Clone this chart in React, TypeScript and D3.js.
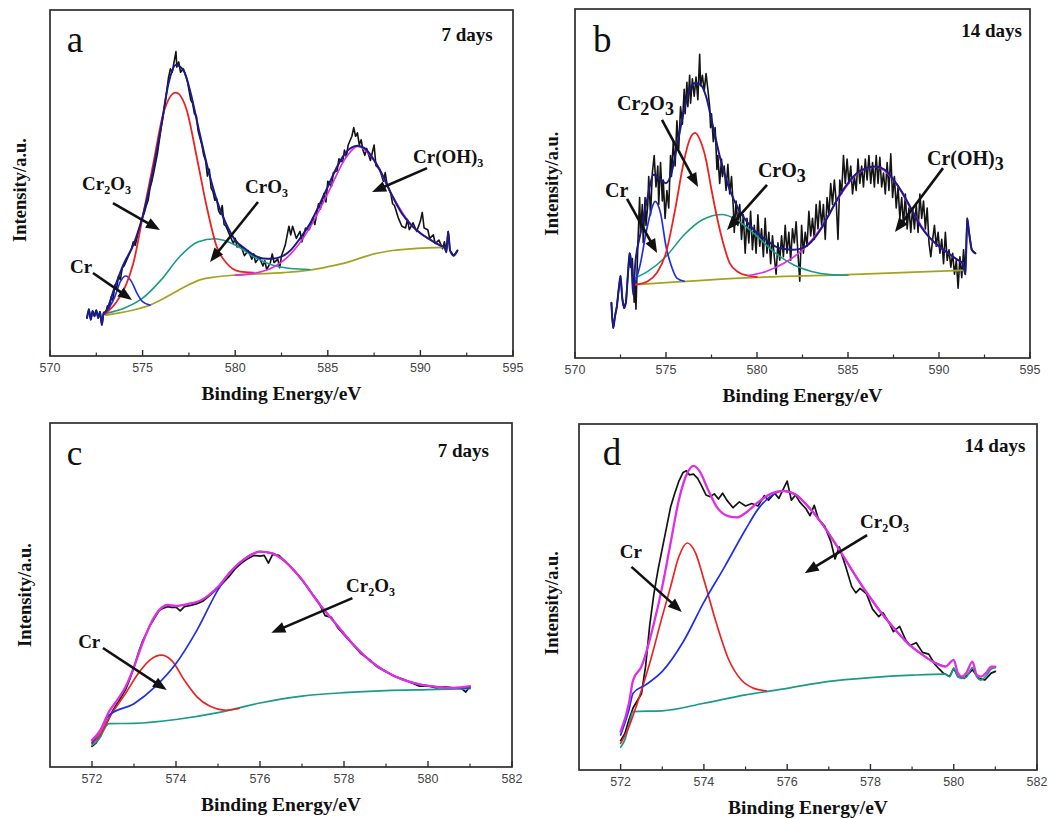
import React from "react";
import * as d3 from "d3";

type Pt = [number, number];

// ---------------- Panel a : Cr 2p, 7 days ----------------
const aRaw: Pt[] = [
  [572.0, 11.0], [572.1, 13.5], [572.2, 10.5], [572.3, 13.0], [572.4, 11.5], [572.5, 13.2], [572.6, 11.0],
  [572.7, 12.8], [572.8, 9.0], [572.9, 12.5], [573.0, 12.0], [573.1, 14.5], [573.2, 13.5], [573.3, 17.0],
  [573.4, 16.0], [573.5, 20.5], [573.6, 19.5], [573.7, 23.0], [573.8, 22.0], [573.9, 25.5], [574.0, 26.0],
  [574.2, 28.5], [574.4, 31.0], [574.5, 33.0], [574.6, 32.0], [574.8, 36.5], [575.0, 40.0], [575.1, 41.5],
  [575.2, 43.5], [575.3, 45.0], [575.4, 48.5], [575.5, 50.5], [575.6, 53.0], [575.8, 58.5], [576.0, 66.0],
  [576.1, 69.0], [576.2, 72.5], [576.3, 76.5], [576.4, 80.5], [576.5, 83.0], [576.6, 82.0], [576.7, 85.0],
  [576.8, 88.0], [576.85, 83.5], [576.95, 85.0], [577.05, 82.0], [577.2, 83.0], [577.3, 81.5], [577.4, 80.0],
  [577.5, 77.0], [577.6, 74.0], [577.7, 73.0], [577.8, 70.0], [577.9, 69.5], [578.0, 65.0], [578.2, 61.0],
  [578.3, 58.0], [578.4, 56.5], [578.5, 52.0], [578.6, 54.0], [578.7, 48.5], [578.8, 47.5], [578.9, 45.0],
  [579.0, 45.5], [579.1, 42.0], [579.2, 41.0], [579.3, 43.5], [579.4, 38.0], [579.5, 37.5], [579.7, 35.0],
  [579.9, 32.5], [580.0, 34.0], [580.1, 31.5], [580.3, 32.0], [580.5, 29.0], [580.7, 30.5], [580.9, 28.0],
  [581.0, 29.5], [581.1, 27.0], [581.3, 28.5], [581.5, 26.0], [581.6, 27.5], [581.7, 25.0], [581.9, 27.0],
  [582.0, 29.5], [582.1, 27.0], [582.3, 28.0], [582.4, 25.5], [582.5, 29.0], [582.7, 32.0], [582.9, 37.5],
  [583.0, 35.0], [583.1, 37.5], [583.3, 34.0], [583.5, 36.0], [583.6, 33.0], [583.8, 37.0], [584.0, 36.5],
  [584.2, 40.0], [584.3, 38.0], [584.5, 44.0], [584.6, 42.5], [584.8, 47.0], [584.9, 44.5], [585.0, 50.5],
  [585.2, 49.0], [585.3, 53.0], [585.5, 53.5], [585.6, 57.0], [585.8, 56.0], [585.9, 59.5], [586.0, 57.5],
  [586.1, 61.0], [586.3, 63.5], [586.4, 66.0], [586.5, 63.5], [586.6, 64.5], [586.7, 61.0], [586.8, 62.5],
  [586.9, 59.5], [587.0, 58.0], [587.1, 60.0], [587.3, 56.5], [587.5, 61.0], [587.6, 55.0], [587.8, 54.0],
  [588.0, 50.5], [588.1, 53.0], [588.2, 49.5], [588.4, 47.0], [588.5, 44.0], [588.6, 43.5], [588.8, 40.0],
  [589.0, 37.5], [589.2, 37.0], [589.3, 39.5], [589.4, 36.5], [589.6, 38.5], [589.8, 36.0], [590.0, 39.0],
  [590.1, 41.5], [590.2, 37.0], [590.4, 36.5], [590.5, 34.0], [590.7, 35.0], [590.8, 32.5], [591.0, 33.5],
  [591.2, 31.0], [591.3, 33.0], [591.4, 30.0], [591.5, 36.0], [591.6, 30.5], [591.8, 29.0], [592.0, 30.5],
];
const aEnvelope: Pt[] = [
  [572.0, 11.0], [572.1, 13.5], [572.2, 10.5], [572.3, 13.0], [572.4, 11.5], [572.5, 13.2], [572.6, 11.0],
  [572.7, 12.8], [572.8, 9.0], [572.9, 12.5], [573.0, 12.8], [573.5, 20.0], [574.0, 26.8], [574.5, 32.1],
  [575.0, 40.3], [575.5, 51.8], [576.0, 66.3], [576.4, 78.8], [576.8, 84.1], [577.2, 82.6], [577.6, 75.9],
  [578.0, 66.3], [578.5, 54.7], [579.0, 45.1], [579.5, 38.3], [580.0, 33.5], [580.5, 31.1], [581.0, 29.2],
  [581.5, 28.2], [582.0, 28.1], [582.5, 28.7], [583.0, 30.6], [583.5, 34.0], [584.0, 37.9], [584.5, 43.2],
  [585.0, 48.9], [585.5, 54.7], [586.0, 59.0], [586.6, 60.8], [587.0, 60.0], [587.5, 56.6], [588.0, 51.8],
  [588.5, 46.1], [589.0, 41.2], [589.5, 37.9], [590.0, 35.5], [590.5, 33.7], [591.0, 32.1], [591.3, 31.4],
  [591.4, 30.0], [591.5, 36.0], [591.6, 30.5], [591.8, 29.0], [592.0, 30.5],
];
const aBaseline: Pt[] = [
  [573.0, 11.8], [573.6, 12.3], [574.5, 13.3], [575.4, 14.7], [576.3, 17.1], [577.2, 19.8], [578.1, 22.0],
  [579.0, 22.9], [580.0, 23.4], [581.5, 23.8], [582.6, 24.1], [584.0, 24.8], [585.0, 25.8], [586.0, 27.0],
  [586.7, 28.2], [587.5, 29.5], [588.5, 30.5], [589.8, 31.1], [591.3, 31.4],
];
const aCr: Pt[] = [
  [573.0, 12.3], [573.5, 17.1], [573.8, 21.5], [574.1, 23.1], [574.4, 21.5], [574.7, 18.1], [575.0, 15.7], [575.4, 14.7],
];
const aCr2O3: Pt[] = [
  [573.0, 12.3], [573.6, 15.7], [574.1, 20.5], [574.5, 26.8], [575.04, 41.2], [575.58, 55.7], [576.12, 70.1],
  [576.79, 76.1], [577.38, 71.1], [577.92, 57.6], [578.46, 43.2], [579.0, 31.6], [579.54, 26.8], [580.26, 24.4],
  [580.98, 24.1],
];
const aCrO3: Pt[] = [
  [573.0, 12.3], [574.0, 13.8], [575.0, 16.7], [576.0, 22.0], [577.0, 28.7], [578.0, 33.0], [578.9, 33.9],
  [580.0, 32.1], [581.0, 28.7], [582.0, 26.3], [583.0, 25.3], [584.0, 25.0],
];
const aCrOH3: Pt[] = [
  [580.0, 23.4], [581.0, 23.9], [582.0, 25.5], [583.0, 29.5], [584.0, 36.8], [585.0, 47.0], [586.0, 57.5],
  [586.6, 60.6], [587.5, 56.5], [588.5, 46.1], [589.5, 37.9], [590.5, 33.7], [591.3, 31.4],
];

// ---------------- Panel b : Cr 2p, 14 days ----------------
const bRaw: Pt[] = [
  [572.0, 15.8], [572.05, 11.0], [572.1, 8.6], [572.2, 12.0], [572.3, 14.8], [572.4, 19.6], [572.5, 23.5],
  [572.6, 17.0], [572.7, 14.3], [572.8, 16.0], [572.9, 23.4], [573.0, 30.0], [573.05, 26.0], [573.15, 28.5],
  [573.25, 16.0], [573.3, 22.0], [573.35, 14.0], [573.45, 32.0], [573.55, 46.0], [573.6, 36.0], [573.7, 44.0],
  [573.75, 33.0], [573.85, 46.0], [573.9, 38.0], [574.0, 44.0], [574.05, 52.0], [574.15, 41.0], [574.25, 53.0],
  [574.35, 58.0], [574.45, 49.0], [574.55, 55.0], [574.6, 44.0], [574.7, 56.0], [574.8, 45.0], [574.85, 51.0],
  [574.95, 40.0], [575.05, 48.0], [575.15, 43.0], [575.25, 58.0], [575.3, 52.0], [575.4, 62.0], [575.5, 55.0],
  [575.6, 68.0], [575.7, 60.0], [575.8, 72.0], [575.9, 67.0], [576.0, 77.0], [576.05, 70.0], [576.15, 79.0],
  [576.2, 72.0], [576.3, 81.0], [576.35, 73.0], [576.45, 80.0], [576.55, 75.0], [576.65, 80.5], [576.75, 74.0],
  [576.85, 87.0], [576.9, 78.0], [577.0, 81.0], [577.1, 76.5], [577.2, 81.5], [577.3, 77.0], [577.4, 72.0],
  [577.45, 66.0], [577.5, 70.0], [577.6, 62.0], [577.7, 66.0], [577.8, 54.0], [577.85, 58.0], [577.95, 50.0],
  [578.05, 57.0], [578.1, 52.0], [578.2, 55.0], [578.3, 48.0], [578.4, 55.5], [578.5, 47.0], [578.6, 52.0],
  [578.7, 43.0], [578.75, 36.0], [578.85, 45.0], [578.95, 38.0], [579.05, 44.0], [579.15, 34.0], [579.25, 41.0],
  [579.35, 30.0], [579.45, 40.0], [579.55, 33.0], [579.65, 42.0], [579.75, 31.0], [579.85, 38.0], [579.95, 30.0],
  [580.05, 41.0], [580.15, 32.0], [580.25, 37.0], [580.35, 29.0], [580.45, 40.0], [580.55, 30.0], [580.65, 36.0],
  [580.75, 27.0], [580.85, 35.0], [580.95, 29.0], [581.05, 24.0], [581.15, 33.0], [581.25, 28.0], [581.35, 35.0],
  [581.45, 29.0], [581.55, 38.0], [581.65, 30.0], [581.75, 36.0], [581.85, 28.0], [581.95, 37.0], [582.05, 33.0],
  [582.15, 39.0], [582.25, 30.0], [582.35, 22.0], [582.45, 38.0], [582.55, 30.0], [582.65, 36.0], [582.75, 32.0],
  [582.85, 42.0], [582.95, 35.0], [583.05, 40.0], [583.15, 34.0], [583.25, 44.0], [583.35, 37.0], [583.45, 45.0],
  [583.55, 38.0], [583.65, 44.0], [583.75, 34.0], [583.85, 46.0], [583.95, 41.0], [584.05, 50.0], [584.15, 44.0],
  [584.25, 51.0], [584.35, 45.0], [584.45, 34.0], [584.55, 51.0], [584.65, 47.0], [584.75, 58.0], [584.85, 50.0],
  [584.95, 57.0], [585.05, 50.0], [585.15, 55.0], [585.25, 47.0], [585.35, 52.0], [585.45, 48.0], [585.55, 57.0],
  [585.65, 50.0], [585.75, 55.0], [585.85, 49.0], [585.95, 57.0], [586.05, 51.0], [586.15, 58.0], [586.25, 50.0],
  [586.35, 56.0], [586.45, 49.0], [586.55, 58.0], [586.65, 50.0], [586.75, 57.5], [586.85, 49.0], [586.95, 53.0],
  [587.05, 47.0], [587.15, 56.0], [587.25, 48.0], [587.35, 58.5], [587.45, 46.0], [587.55, 52.0], [587.65, 43.0],
  [587.75, 49.0], [587.85, 40.0], [587.95, 46.0], [588.05, 38.0], [588.15, 47.0], [588.25, 37.0], [588.35, 43.0],
  [588.45, 36.0], [588.55, 43.0], [588.65, 37.0], [588.75, 44.0], [588.85, 36.0], [588.95, 47.0], [589.05, 40.0],
  [589.15, 45.0], [589.25, 37.0], [589.35, 43.0], [589.45, 33.0], [589.55, 29.0], [589.65, 34.0], [589.75, 38.0],
  [589.85, 32.0], [589.95, 36.0], [590.05, 30.0], [590.15, 34.0], [590.25, 27.0], [590.35, 36.0], [590.45, 28.0],
  [590.55, 31.0], [590.65, 26.0], [590.75, 30.0], [590.85, 24.0], [590.95, 28.0], [591.05, 20.0], [591.15, 29.0],
  [591.25, 23.0], [591.35, 31.0], [591.45, 24.0], [591.55, 40.0], [591.65, 36.0], [591.8, 31.0], [592.0, 30.0],
];
const bEnvelope: Pt[] = [
  [572.0, 15.8], [572.1, 8.6], [572.2, 12.0], [572.3, 14.8], [572.4, 19.6], [572.5, 23.5], [572.6, 17.0],
  [572.7, 14.3], [572.8, 16.0], [572.9, 23.4], [573.0, 30.0], [573.1, 27.0], [573.2, 18.0], [573.3, 26.3],
  [573.6, 35.8], [574.0, 46.3], [574.3, 52.5], [574.7, 51.1], [575.0, 50.1], [575.3, 53.0], [575.6, 60.6],
  [576.0, 71.2], [576.3, 76.9], [576.6, 78.8], [576.9, 78.3], [577.2, 75.0], [577.5, 68.3], [578.0, 56.8],
  [578.5, 48.2], [579.0, 42.5], [579.5, 38.7], [580.0, 35.8], [580.5, 33.9], [581.0, 32.0], [581.5, 31.2],
  [582.0, 31.0], [582.5, 31.5], [583.0, 33.4], [583.5, 36.8], [584.0, 41.5], [584.5, 46.3], [585.0, 50.1],
  [585.5, 53.0], [586.0, 54.4], [586.5, 54.9], [587.0, 54.0], [587.5, 51.1], [588.0, 47.3], [588.5, 42.5],
  [589.0, 37.7], [589.5, 34.4], [590.0, 32.0], [590.5, 30.1], [591.0, 28.2], [591.3, 27.2], [591.45, 24.0],
  [591.55, 40.0], [591.65, 36.0], [591.8, 31.0], [592.0, 30.0],
];
const bBaseline: Pt[] = [[573.3, 21.0], [580.0, 23.1], [585.0, 23.9], [591.3, 25.1]];
const bCr: Pt[] = [
  [573.3, 21.5], [573.6, 27.2], [573.9, 35.8], [574.2, 42.5], [574.4, 44.9], [574.7, 41.5], [575.0, 32.0],
  [575.3, 26.3], [575.6, 22.9], [576.0, 22.0],
];
const bCr2O3: Pt[] = [
  [573.3, 21.0], [574.0, 22.0], [574.5, 24.4], [575.0, 30.1], [575.5, 42.5], [576.0, 56.8], [576.3, 62.6],
  [576.6, 64.5], [576.9, 62.1], [577.2, 56.8], [577.5, 48.2], [578.0, 35.8], [578.5, 27.2], [579.0, 24.5],
  [579.5, 23.6], [580.0, 23.2],
];
const bCrO3: Pt[] = [
  [573.3, 22.9], [574.0, 24.8], [575.0, 29.1], [576.0, 35.3], [577.0, 39.6], [578.1, 41.1], [579.0, 39.2],
  [580.0, 34.9], [581.0, 30.1], [582.0, 26.7], [583.0, 24.8], [584.0, 23.9], [585.0, 23.7],
];
const bCrOH3: Pt[] = [
  [579.5, 23.6], [580.5, 24.8], [581.5, 27.2], [582.5, 31.0], [583.5, 37.2], [584.5, 46.0], [585.5, 52.8],
  [586.5, 54.8], [587.5, 51.0], [588.5, 42.4], [589.5, 34.3], [590.5, 30.0], [591.3, 27.2],
];

// ---------------- Panel c : Cr 2p, 7 days (fit) ----------------
const cRaw: Pt[] = [
  [572.0, 6.0], [572.1, 7.0], [572.2, 9.0], [572.3, 11.5], [572.4, 14.0], [572.5, 16.5], [572.6, 18.5],
  [572.7, 20.5], [572.8, 22.5], [572.9, 25.5], [573.0, 29.0], [573.1, 33.0], [573.2, 36.5], [573.3, 39.0],
  [573.4, 41.5], [573.5, 43.5], [573.6, 45.5], [573.7, 46.2], [573.8, 46.6], [573.9, 46.4], [574.0, 46.5],
  [574.1, 45.4], [574.2, 46.6], [574.35, 47.0], [574.5, 47.5], [574.65, 48.3], [574.8, 49.8], [574.95, 51.5],
  [575.1, 53.3], [575.25, 55.2], [575.4, 57.5], [575.55, 59.2], [575.7, 60.5], [575.85, 61.5], [576.0, 61.3],
  [576.1, 61.5], [576.2, 59.3], [576.3, 61.8], [576.45, 61.5], [576.6, 59.8], [576.8, 57.3], [577.0, 54.5],
  [577.2, 51.0], [577.4, 47.8], [577.55, 44.0], [577.7, 43.5], [577.85, 40.5], [578.0, 38.5], [578.2, 35.8],
  [578.4, 33.0], [578.6, 31.3], [578.8, 29.0], [579.0, 27.8], [579.2, 26.4], [579.4, 25.6], [579.6, 24.5],
  [579.8, 23.5], [580.0, 23.6], [580.2, 23.0], [580.4, 23.3], [580.6, 23.0], [580.8, 22.8], [580.9, 21.8],
  [581.0, 23.4],
];
const cEnvelope: Pt[] = [
  [572.0, 7.8], [572.2, 10.7], [572.4, 16.0], [572.6, 19.4], [572.8, 23.3], [573.0, 29.1], [573.2, 35.9],
  [573.4, 41.7], [573.6, 45.6], [573.8, 47.1], [574.0, 46.8], [574.3, 47.4], [574.6, 48.5], [575.0, 52.4],
  [575.3, 56.8], [575.6, 60.2], [576.0, 62.6], [576.3, 62.1], [576.6, 59.7], [577.0, 54.4], [577.4, 47.6],
  [577.8, 41.7], [578.2, 35.9], [578.6, 31.1], [579.0, 27.7], [579.4, 25.4], [579.8, 24.0], [580.2, 23.3],
  [580.6, 23.0], [581.0, 23.5],
];
const cBaseline: Pt[] = [
  [572.0, 6.3], [572.1, 7.3], [572.2, 8.7], [572.3, 11.2], [572.4, 12.6], [573.0, 12.7], [574.0, 13.8],
  [575.0, 15.8], [576.0, 18.6], [577.0, 20.6], [578.0, 21.6], [579.0, 22.2], [580.0, 22.5], [581.0, 22.8],
];
const cCr: Pt[] = [
  [572.0, 6.8], [572.2, 9.5], [572.4, 14.1], [572.8, 21.4], [573.1, 27.2], [573.4, 31.3], [573.65, 32.5],
  [573.9, 30.9], [574.2, 25.2], [574.5, 20.4], [574.8, 17.7], [575.2, 16.5], [575.5, 17.0],
];
const cCr2O3: Pt[] = [
  [572.0, 7.1], [572.2, 10.5], [572.4, 15.0], [573.0, 18.4], [573.5, 23.3], [574.0, 30.1], [574.5, 39.8],
  [575.0, 51.5], [575.3, 56.8], [575.6, 60.2], [576.0, 62.6], [576.3, 62.1], [576.6, 59.7], [577.0, 54.4],
  [577.4, 47.6], [577.8, 41.7], [578.2, 35.9], [578.6, 31.1], [579.0, 27.7], [579.4, 25.4], [579.8, 24.0],
  [580.2, 23.3], [580.6, 23.0], [581.0, 23.0],
];

// ---------------- Panel d : Cr 2p, 14 days (fit) ----------------
const dRaw: Pt[] = [
  [572.0, 8.5], [572.1, 10.5], [572.2, 14.5], [572.3, 18.0], [572.4, 20.0], [572.5, 22.0], [572.6, 30.0],
  [572.7, 42.0], [572.8, 51.0], [572.9, 58.0], [573.0, 64.0], [573.1, 70.0], [573.2, 76.0], [573.3, 80.0],
  [573.4, 83.5], [573.5, 86.0], [573.58, 86.5], [573.65, 85.3], [573.75, 85.5], [573.85, 84.3], [573.95, 82.0],
  [574.05, 79.5], [574.15, 79.0], [574.25, 79.8], [574.35, 78.3], [574.45, 80.0], [574.55, 78.0], [574.7, 75.8],
  [574.85, 77.5], [575.0, 76.3], [575.15, 77.0], [575.3, 76.3], [575.45, 79.3], [575.55, 78.0], [575.7, 80.0],
  [575.8, 78.5], [575.9, 81.0], [576.0, 83.5], [576.1, 78.0], [576.2, 79.5], [576.3, 77.5], [576.45, 75.5],
  [576.55, 73.5], [576.65, 76.5], [576.75, 72.5], [576.9, 70.5], [577.05, 66.0], [577.15, 61.0], [577.25, 64.5],
  [577.4, 59.0], [577.55, 53.0], [577.65, 51.2], [577.75, 52.5], [577.9, 51.0], [578.05, 46.5], [578.2, 44.3],
  [578.3, 45.5], [578.45, 42.5], [578.55, 40.0], [578.7, 41.5], [578.85, 37.5], [578.95, 36.0], [579.1, 36.8],
  [579.25, 34.0], [579.4, 33.5], [579.55, 30.5], [579.65, 29.2], [579.75, 28.0], [579.9, 27.0], [580.0, 29.4],
  [580.1, 27.0], [580.25, 26.5], [580.45, 29.0], [580.6, 26.5], [580.75, 26.0], [580.9, 28.0], [581.0, 28.5],
];
const dEnvelope: Pt[] = [
  [572.0, 11.1], [572.2, 19.3], [572.3, 26.0], [572.5, 29.9], [572.8, 42.4], [573.0, 53.0], [573.2, 65.6],
  [573.4, 78.1], [573.6, 85.8], [573.75, 87.9], [573.9, 86.3], [574.1, 81.0], [574.3, 76.2], [574.6, 73.3],
  [574.8, 73.0], [575.0, 74.3], [575.3, 77.4], [575.6, 79.8], [575.9, 80.7], [576.2, 79.6], [576.5, 76.2],
  [576.8, 71.8], [577.1, 66.5], [577.4, 60.8], [577.7, 55.0], [578.0, 49.7], [578.3, 44.8], [578.6, 40.5],
  [578.9, 36.6], [579.2, 33.7], [579.5, 31.3], [579.8, 29.9], [580.0, 31.8], [580.1, 28.0], [580.2, 27.0],
  [580.3, 28.0], [580.45, 31.3], [580.55, 27.5], [580.65, 27.0], [580.8, 28.4], [580.9, 29.9], [581.0, 29.9],
];
const dBaseline: Pt[] = [
  [572.0, 6.6], [572.1, 8.7], [572.2, 13.0], [572.3, 16.9], [573.0, 17.1], [574.0, 19.3], [575.0, 21.7],
  [576.0, 23.6], [577.0, 25.6], [578.0, 26.7], [579.0, 27.4], [579.8, 27.7], [579.9, 27.0], [580.0, 29.4],
  [580.1, 27.0], [580.2, 26.5], [580.3, 26.8], [580.45, 29.6], [580.55, 27.0], [580.65, 26.0], [580.8, 27.5],
  [580.9, 29.2], [581.0, 29.6],
];
const dCr: Pt[] = [
  [572.0, 7.7], [572.2, 12.5], [572.4, 19.3], [572.7, 30.9], [573.0, 44.4], [573.2, 53.0], [573.4, 61.7],
  [573.6, 65.6], [573.8, 62.7], [574.0, 55.0], [574.3, 42.4], [574.6, 31.8], [574.9, 26.0], [575.2, 23.6],
  [575.5, 22.9],
];
const dCr2O3: Pt[] = [
  [572.0, 10.1], [572.2, 17.4], [572.3, 22.2], [572.6, 24.6], [573.0, 28.5], [573.5, 37.0], [574.0, 48.5],
  [574.5, 58.8], [575.0, 69.5], [575.3, 75.4], [575.6, 79.1], [575.9, 80.7], [576.2, 79.6], [576.5, 76.2],
  [576.8, 71.8], [577.1, 66.5], [577.4, 60.8], [577.7, 55.0], [578.0, 49.7], [578.3, 44.8], [578.6, 40.5],
  [578.9, 36.6], [579.2, 33.7], [579.5, 31.3], [579.8, 29.9],
];

// ---------------- axes ----------------
const ticksWide = [570, 575, 580, 585, 590, 595];
const minorWide = [572.5, 577.5, 582.5, 587.5, 592.5];
const ticksNarrow = [572, 574, 576, 578, 580, 582];
const minorNarrow = [573, 575, 577, 579, 581];
const xTitle = "Binding Energy/eV";
const yTitle = "Intensity/a.u.";

// ---------------- styles ----------------
const SERIF = "'Liberation Serif','Times New Roman',Times,serif";
const SANS = "'Liberation Sans',Arial,Helvetica,sans-serif";
const C_BLACK = "#141414";
const C_NAVY = "#1b1b88";
const C_RED = "#ec2222";
const C_BLUE = "#1f2fe6";
const C_TEAL = "#199a8a";
const C_OLIVE = "#a3a321";
const C_MAGENTA = "#e02ee2";

type Series = { data: Pt[]; color: string; width: number; smooth: boolean };
type Label = { text: string; at: Pt; size: number; sub: number; subDy: number };
type Arrow = { from: Pt; to: Pt };
type PanelCfg = {
  frame: { x: number; y: number; w: number; h: number };
  domain: [number, number];
  ticks: number[];
  minor: number[];
  letter: string;
  letterAt: Pt;
  letterSize: number;
  days: string;
  daysAt: Pt;
  series: Series[];
  labels: Label[];
  arrows: Arrow[];
  yTitleDx: number;
  yTitleDy: number;
};

const panels: PanelCfg[] = [
  {
    frame: { x: 50, y: 10, w: 463, h: 346 },
    domain: [570, 595],
    ticks: ticksWide,
    minor: minorWide,
    letter: "a",
    letterAt: [570.9, 87.9],
    letterSize: 37,
    days: "7 days",
    daysAt: [593.9, 91.0],
    series: [
      { data: aRaw, color: C_BLACK, width: 1.6, smooth: false },
      { data: aBaseline, color: C_OLIVE, width: 1.7, smooth: true },
      { data: aCrO3, color: C_TEAL, width: 1.6, smooth: true },
      { data: aCr, color: C_BLUE, width: 1.6, smooth: true },
      { data: aCr2O3, color: C_RED, width: 1.8, smooth: true },
      { data: aCrOH3, color: C_MAGENTA, width: 1.7, smooth: true },
      { data: aEnvelope, color: C_NAVY, width: 2.0, smooth: true },
    ],
    labels: [
      { text: "Cr_2O_3", at: [571.73, 48.0], size: 19, sub: 12, subDy: 4 },
      { text: "CrO_3", at: [580.53, 47.1], size: 19, sub: 12, subDy: 4 },
      { text: "Cr(OH)_3", at: [589.6, 55.8], size: 19, sub: 12, subDy: 4 },
      { text: "Cr", at: [571.08, 24.0], size: 19, sub: 12, subDy: 4 },
    ],
    arrows: [
      { from: [573.4, 44.2], to: [575.94, 36.4] },
      { from: [581.23, 44.5], to: [578.64, 27.2] },
      { from: [590.36, 54.3], to: [587.39, 47.4] },
      { from: [572.32, 24.0], to: [574.43, 16.2] },
    ],
    yTitleDx: -30,
    yTitleDy: 7,
  },
  {
    frame: { x: 575, y: 9, w: 455, h: 349 },
    domain: [570, 595],
    ticks: ticksWide,
    minor: minorWide,
    letter: "b",
    letterAt: [570.99, 87.7],
    letterSize: 37,
    days: "14 days",
    daysAt: [594.56, 92.0],
    series: [
      { data: bRaw, color: C_BLACK, width: 1.6, smooth: false },
      { data: bBaseline, color: C_OLIVE, width: 1.7, smooth: true },
      { data: bCrO3, color: C_TEAL, width: 1.6, smooth: true },
      { data: bCr, color: C_BLUE, width: 1.7, smooth: true },
      { data: bCr2O3, color: C_RED, width: 1.8, smooth: true },
      { data: bCrOH3, color: C_MAGENTA, width: 1.7, smooth: true },
      { data: bEnvelope, color: C_NAVY, width: 2.0, smooth: true },
    ],
    labels: [
      { text: "Cr_2O_3", at: [572.31, 71.1], size: 20, sub: 18, subDy: 5 },
      { text: "CrO_3", at: [580.05, 51.9], size: 20, sub: 18, subDy: 5 },
      { text: "Cr(OH)_3", at: [589.34, 55.3], size: 20, sub: 18, subDy: 5 },
      { text: "Cr", at: [571.65, 46.1], size: 20, sub: 18, subDy: 5 },
    ],
    arrows: [
      { from: [574.78, 68.2], to: [576.76, 49.0] },
      { from: [580.55, 49.6], to: [578.35, 36.7] },
      { from: [590.22, 54.4], to: [587.58, 36.1] },
      { from: [572.86, 45.6], to: [574.51, 30.1] },
    ],
    yTitleDx: -23,
    yTitleDy: 0,
  },
  {
    frame: { x: 50, y: 423, w: 462, h: 344 },
    domain: [571, 582],
    ticks: ticksNarrow,
    minor: minorNarrow,
    letter: "c",
    letterAt: [571.4, 87.8],
    letterSize: 35,
    days: "7 days",
    daysAt: [581.45, 90.1],
    series: [
      { data: cRaw, color: C_BLACK, width: 1.7, smooth: false },
      { data: cBaseline, color: C_TEAL, width: 1.7, smooth: true },
      { data: cCr, color: C_RED, width: 1.7, smooth: true },
      { data: cCr2O3, color: C_BLUE, width: 1.7, smooth: true },
      { data: cEnvelope, color: C_MAGENTA, width: 2.3, smooth: true },
    ],
    labels: [
      { text: "Cr_2O_3", at: [578.05, 50.9], size: 19, sub: 12, subDy: 4 },
      { text: "Cr", at: [571.67, 34.6], size: 19, sub: 12, subDy: 4 },
    ],
    arrows: [
      { from: [578.2, 49.1], to: [576.27, 39.0] },
      { from: [572.26, 34.6], to: [573.78, 22.4] },
    ],
    yTitleDx: -25,
    yTitleDy: 0,
  },
  {
    frame: { x: 579, y: 424, w: 458, h: 346 },
    domain: [571, 582],
    ticks: ticksNarrow,
    minor: minorNarrow,
    letter: "d",
    letterAt: [571.57, 88.2],
    letterSize: 37,
    days: "14 days",
    daysAt: [581.72, 91.9],
    series: [
      { data: dRaw, color: C_BLACK, width: 1.7, smooth: false },
      { data: dBaseline, color: C_TEAL, width: 1.7, smooth: true },
      { data: dCr, color: C_RED, width: 1.7, smooth: true },
      { data: dCr2O3, color: C_BLUE, width: 1.7, smooth: true },
      { data: dEnvelope, color: C_MAGENTA, width: 2.3, smooth: true },
    ],
    labels: [
      { text: "Cr_2O_3", at: [577.75, 69.9], size: 19, sub: 12, subDy: 4 },
      { text: "Cr", at: [571.98, 61.3], size: 19, sub: 12, subDy: 4 },
    ],
    arrows: [
      { from: [577.92, 67.9], to: [576.42, 56.9] },
      { from: [572.26, 58.7], to: [573.47, 45.7] },
    ],
    yTitleDx: -27,
    yTitleDy: 6,
  },
];

function ChemLabel({ l, x, y }: { l: Label; x: number; y: number }) {
  const parts = l.text.split(/_(\d)/);
  const nodes: React.ReactNode[] = [];
  let shifted = false;
  parts.forEach((p, i) => {
    if (p === "") return;
    if (i % 2 === 1) {
      nodes.push(
        <tspan key={i} fontSize={l.sub} dy={shifted ? 0 : l.subDy}>
          {p}
        </tspan>
      );
      shifted = true;
    } else {
      nodes.push(
        <tspan key={i} fontSize={l.size} dy={shifted ? -l.subDy : 0}>
          {p}
        </tspan>
      );
      shifted = false;
    }
  });
  return (
    <text x={x} y={y} fontFamily={SERIF} fontWeight="bold" fontSize={l.size} fill="#111">
      {nodes}
    </text>
  );
}

function Panel({ p }: { p: PanelCfg }) {
  const { frame } = p;
  const bottom = frame.y + frame.h;
  const x = d3.scaleLinear().domain(p.domain).range([frame.x, frame.x + frame.w]);
  const y = d3.scaleLinear().domain([0, 100]).range([bottom, frame.y]);
  const smooth = d3
    .line<Pt>()
    .x((d) => x(d[0]))
    .y((d) => y(d[1]))
    .curve(d3.curveMonotoneX);
  const straight = d3
    .line<Pt>()
    .x((d) => x(d[0]))
    .y((d) => y(d[1]));
  const fmt = d3.format("d");
  const cx = frame.x + frame.w / 2;
  const cy = frame.y + frame.h / 2;

  return (
    <g>
      {p.series.map((s, i) => (
        <path
          key={i}
          d={(s.smooth ? smooth : straight)(s.data) || ""}
          fill="none"
          stroke={s.color}
          strokeWidth={s.width}
          strokeLinejoin="round"
          strokeLinecap="round"
        />
      ))}
      <rect x={frame.x} y={frame.y} width={frame.w} height={frame.h} fill="none" stroke="#2d2d2d" strokeWidth={1.7} />
      {p.ticks.map((t) => (
        <g key={"t" + t}>
          <line x1={x(t)} x2={x(t)} y1={bottom} y2={bottom - 6} stroke="#2d2d2d" strokeWidth={1.4} />
          <text x={x(t)} y={bottom + 16} textAnchor="middle" fontFamily={SANS} fontSize={12.5} fill="#444">
            {fmt(t)}
          </text>
        </g>
      ))}
      {p.minor.map((t) => (
        <line key={"m" + t} x1={x(t)} x2={x(t)} y1={bottom} y2={bottom - 3.5} stroke="#2d2d2d" strokeWidth={1.2} />
      ))}
      <text x={cx} y={bottom + 44} textAnchor="middle" fontFamily={SERIF} fontWeight="bold" fontSize={19.5} fill="#111">
        {xTitle}
      </text>
      <text
        transform={`translate(${frame.x + p.yTitleDx},${cy + p.yTitleDy}) rotate(-90)`}
        textAnchor="middle"
        dominantBaseline="central"
        fontFamily={SERIF}
        fontWeight="bold"
        fontSize={18.5}
        fill="#111"
      >
        {yTitle}
      </text>
      <text x={x(p.letterAt[0])} y={y(p.letterAt[1])} fontFamily={SERIF} fontSize={p.letterSize} fill="#111">
        {p.letter}
      </text>
      <text
        x={x(p.daysAt[0])}
        y={y(p.daysAt[1])}
        textAnchor="end"
        fontFamily={SERIF}
        fontWeight="bold"
        fontSize={19}
        fill="#111"
      >
        {p.days}
      </text>
      {p.labels.map((l, i) => (
        <ChemLabel key={"l" + i} l={l} x={x(l.at[0])} y={y(l.at[1])} />
      ))}
      {p.arrows.map((a, i) => {
        const x1 = x(a.from[0]);
        const y1 = y(a.from[1]);
        const x2 = x(a.to[0]);
        const y2 = y(a.to[1]);
        const ang = Math.atan2(y2 - y1, x2 - x1);
        const L = 14;
        const W = 5.5;
        const bx = x2 - L * Math.cos(ang);
        const by = y2 - L * Math.sin(ang);
        const s = Math.sin(ang);
        const c = Math.cos(ang);
        const head = `${x2},${y2} ${bx + W * s},${by - W * c} ${bx - W * s},${by + W * c}`;
        return (
          <g key={"a" + i}>
            <line x1={x1} y1={y1} x2={bx + 2 * c} y2={by + 2 * s} stroke="#111" strokeWidth={2.6} />
            <polygon points={head} fill="#111" />
          </g>
        );
      })}
    </g>
  );
}

export default function App() {
  return (
    <svg
      width={1051}
      height={819}
      viewBox="0 0 1051 819"
      style={{ position: "absolute", left: 0, top: 0, background: "#fff" }}
    >
      <rect x={0} y={0} width={1051} height={819} fill="#fff" />
      {panels.map((p, i) => (
        <Panel key={i} p={p} />
      ))}
    </svg>
  );
}
